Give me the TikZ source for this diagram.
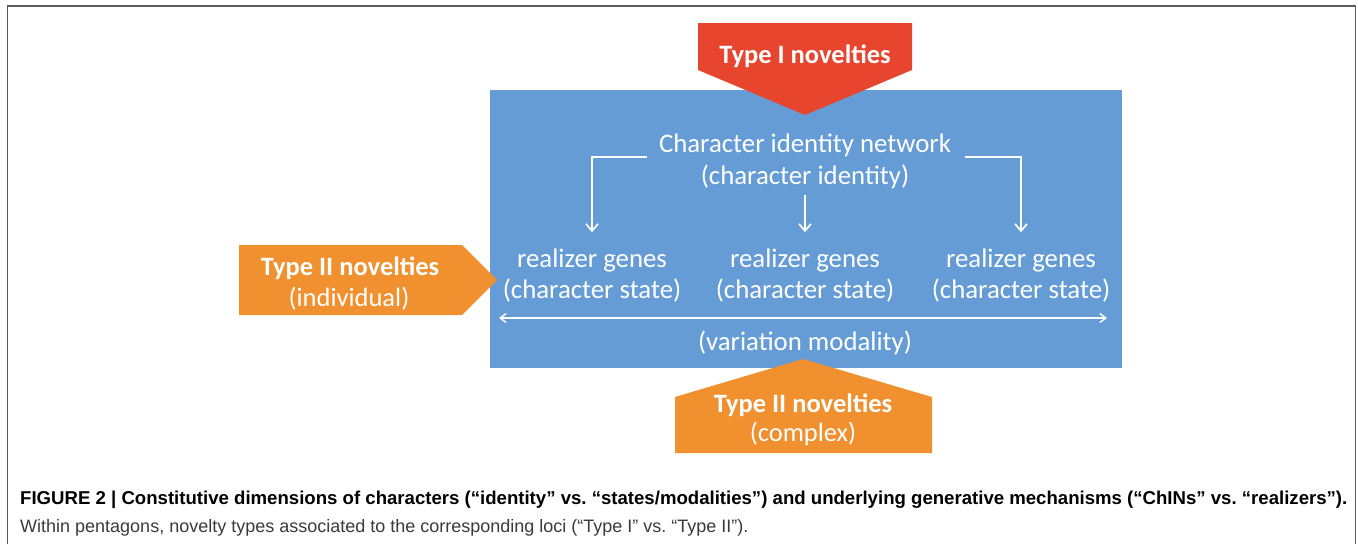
\documentclass[tikz,border=0pt]{standalone}
\usepackage{fontspec}
\setmainfont{Carlito}
\newfontfamily\capfont{Liberation Sans}
\usetikzlibrary{arrows.meta}
\frenchspacing
\definecolor{boxblue}{HTML}{659CD6}
\definecolor{typeone}{HTML}{E8452F}
\definecolor{typetwo}{HTML}{F0902F}
\definecolor{framegray}{HTML}{5A5A5A}
\definecolor{capgray}{HTML}{3A3A3A}
\tikzset{
  boxtext/.style={text=white, font=\fontsize{26.8}{32}\selectfont, inner sep=0pt, anchor=base},
  novtext/.style={text=white, font=\bfseries\fontsize{26.5}{32}\selectfont, inner sep=0pt, anchor=base},
  subtext/.style={text=white, font=\fontsize{26.5}{32}\selectfont, inner sep=0pt, anchor=base},
  flow/.style={draw=white, line width=1.9pt, -{Straight Barb[length=7pt,width=12pt,line width=1.7pt]}},
  capbold/.style={font=\capfont\bfseries\fontsize{18.6}{22}\selectfont, inner sep=0pt, anchor=base west},
  capreg/.style={font=\capfont\fontsize{18}{22}\selectfont, text=capgray, inner sep=0pt, anchor=base west},
}
\begin{document}
\begin{tikzpicture}[x=1pt,y=-1pt]
\useasboundingbox (0,0) rectangle (1358,544);
% frame
\draw[framegray, line width=1.5pt] (7.5,544) -- (7.5,6) -- (1355.5,6) -- (1355.5,544);
% blue box
\fill[boxblue] (490,90) rectangle (1122,368);
% pentagons
\fill[typeone] (698,23) -- (912,23) -- (912,70) -- (805,115) -- (698,70) -- cycle;
\fill[typetwo] (239,245) -- (462,245) -- (497,280) -- (462,315) -- (239,315) -- cycle;
\fill[typetwo] (675,453) -- (675,397) -- (803,359) -- (932,397) -- (932,453) -- cycle;
% novelty texts
\node[novtext] (t1) at (805,63) {Type I novelties};
\node[novtext] (t2a) at (350,275) {Type II novelties};
\node[subtext] (t2b) at (349,306) {(individual)};
\node[novtext] (t3a) at (803,412) {Type II novelties};
\node[subtext] (t3b) at (803,441) {(complex)};
% box texts
\node[boxtext] (cin) at (805,152) {Character identity network};
\node[boxtext] (ci) at (805,184) {(character identity)};
\node[boxtext] (r1) at (592,267) {realizer genes};
\node[boxtext] (s1) at (592,298) {(character state)};
\node[boxtext] (r2) at (805,267) {realizer genes};
\node[boxtext] (s2) at (805,298) {(character state)};
\node[boxtext] (r3) at (1021,267) {realizer genes};
\node[boxtext] (s3) at (1021,298) {(character state)};
\node[boxtext] (vm) at (805,350) {(variation modality)};
% connectors
\coordinate (la) at (647,157);
\coordinate (ra) at (965,157);
\coordinate (va) at (499,318);
\coordinate (vb) at (1107,318);
\draw[flow] (la) -| ([yshift=16pt]r1.north);
\draw[flow] ([yshift=-6pt]ci.south) -- ([yshift=16pt]r2.north);
\draw[flow] (ra) -| ([yshift=16pt]r3.north);
\draw[draw=white, line width=1.8pt, {Straight Barb[length=6pt,width=9pt,line width=1.4pt]}-{Straight Barb[length=6pt,width=9pt,line width=1.4pt]}] (va) -- (vb);
% caption
\node[capbold] (cap1) at (20,504) {FIGURE 2 | Constitutive dimensions of characters (“identity” vs. “states/modalities”) and underlying generative mechanisms (“ChINs” vs. “realizers”).};
\node[capreg] (cap2) at (20,532) {Within pentagons, novelty types associated to the corresponding loci (“Type I” vs. “Type II”).};
\end{tikzpicture}
\end{document}
